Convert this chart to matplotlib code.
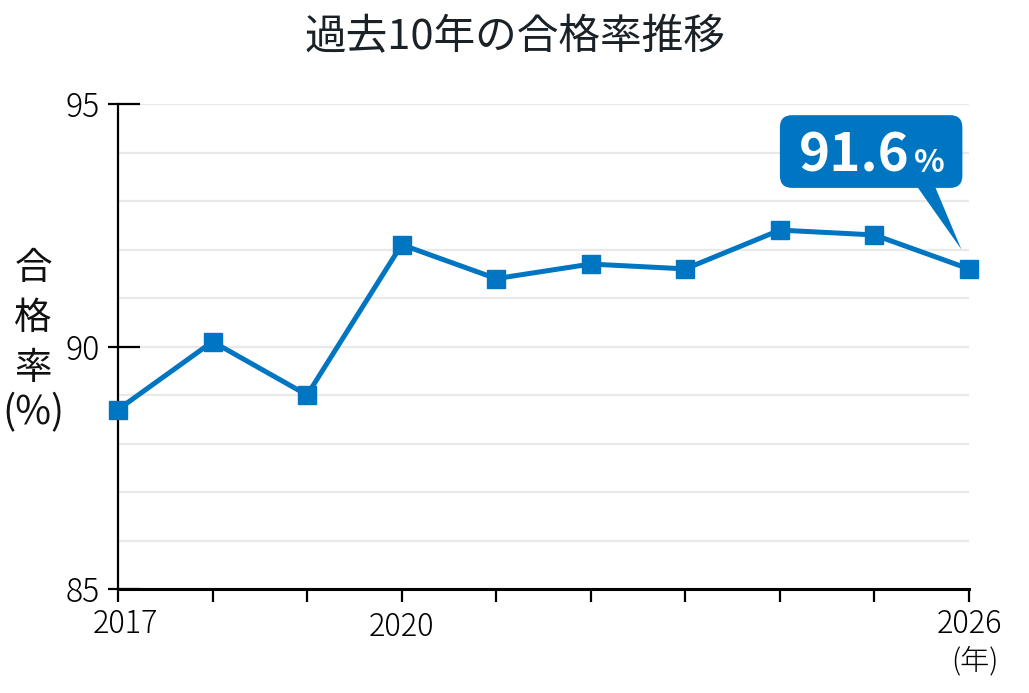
import numpy as np
import matplotlib.pyplot as plt
import matplotlib.transforms as mtransforms
from matplotlib.patches import FancyBboxPatch, Polygon
from matplotlib.ticker import MultipleLocator

years = [2017, 2018, 2019, 2020, 2021, 2022, 2023, 2024, 2025, 2026]
rates = [88.7, 90.1, 89.0, 92.1, 91.4, 91.7, 91.6, 92.4, 92.3, 91.6]
shown_years = [2017, 2020, 2026]
y_ticks = [85, 90, 95]
title = '過去10年の合格率推移'
latest_label = '91.6'

BLUE = '#0075c2'
plt.rcParams['font.family'] = ['Noto Sans CJK JP', 'DejaVu Sans']

fig = plt.figure(figsize=(10.29, 6.93), dpi=100)
ax = fig.add_axes([118/1029, 1 - 589/693, (969 - 118)/1029, (589 - 104)/693])

ax.set_xlim(years[0], years[-1])
ax.set_ylim(y_ticks[0], y_ticks[-1])

# px per data unit, used for the callout shape
px_x = (969 - 118) / (years[-1] - years[0])
px_y = (589 - 104) / (y_ticks[-1] - y_ticks[0])

# light grid every 1 point
for v in np.arange(y_ticks[0], y_ticks[-1] + 1):
    ax.axhline(v, color='#e9e9e9', lw=1.6, zorder=0)

ax.plot(years, rates, color=BLUE, lw=3.6, marker='s', markersize=13,
        clip_on=False, zorder=3)

# axes styling
for s in ['top', 'right']:
    ax.spines[s].set_visible(False)
ax.spines['left'].set_linewidth(1.6)
ax.spines['bottom'].set_linewidth(2.2)

ax.set_xticks(years)
ax.set_xticklabels([str(y) if y in shown_years else '' for y in years])
ax.tick_params(axis='x', direction='out', length=9, width=1.6, labelsize=22, pad=5)
ax.xaxis.get_major_ticks()[3].set_pad(6.5)
# first label sits a bit to the right of its tick
first = ax.get_xticklabels()[0]
first.set_transform(first.get_transform() +
                    mtransforms.ScaledTranslation(7/100, 0, fig.dpi_scale_trans))

ax.set_yticks(y_ticks)
ax.tick_params(axis='y', which='major', direction='in', length=16, width=1.6,
               labelsize=23, pad=13)
ax.yaxis.set_minor_locator(MultipleLocator(5))
ax.yaxis.remove_overlapping_locs = False
ax.tick_params(axis='y', which='minor', direction='out', length=7, width=1.6)
for lab in ax.get_yticklabels() + ax.get_xticklabels():
    lab.set_fontweight('light')

fig.text(0.5, 1 - 38/693, title, ha='center', va='center', fontsize=30,
         color='#1a2228', fontweight='normal')

# y label, stacked vertically
for ch, yp, fs in zip(['合', '格', '率', '(%)'], [268, 318, 368, 413],
                      [27, 27, 27, 28]):
    fig.text(33/1029, 1 - yp/693, ch, ha='center', va='center', fontsize=fs,
             color='#111111', fontweight='normal')

fig.text(975/1029, 1 - 661/693, '(年)', ha='center', va='center', fontsize=21,
         fontweight='light')

# callout for the latest value
box = FancyBboxPatch((2024.0, 93.27), 1.93, 1.5,
                     boxstyle='round,pad=0,rounding_size=0.13',
                     mutation_aspect=px_x / px_y,
                     fc=BLUE, ec='none', clip_on=False, zorder=4)
ax.add_patch(box)
tip = Polygon([[2025.45, 93.3], [2025.64, 93.3], [years[-1] - 0.08, 92.0]],
              closed=True, fc=BLUE, ec='none', clip_on=False, zorder=4)
ax.add_patch(tip)
ax.text(2025.37, 93.60, latest_label, ha='right', va='baseline', fontsize=38,
        fontweight='bold', color='white', zorder=5)
ax.text(2025.42, 93.60, '%', ha='left', va='baseline', fontsize=23,
        fontweight='bold', color='white', zorder=5)

fig.savefig('out.png', dpi=100)
